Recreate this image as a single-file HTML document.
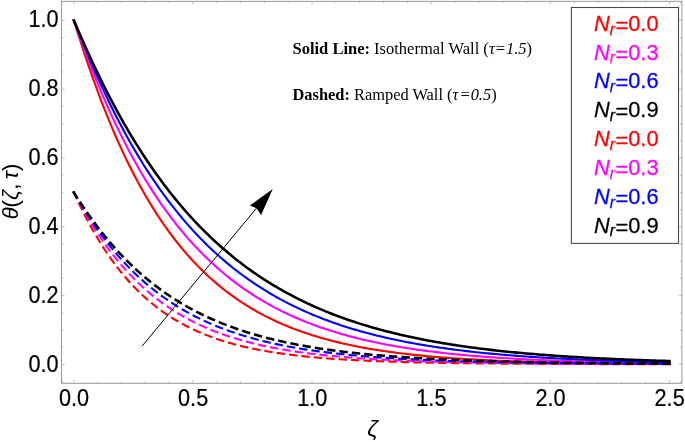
<!DOCTYPE html>
<html><head><meta charset="utf-8"><title>Temperature profiles</title>
<style>html,body{margin:0;padding:0;background:#fff}svg{display:block}text{font-family:"Liberation Sans",Arial,sans-serif}.s{font-family:"Liberation Serif","Times New Roman",serif}</style></head><body>
<svg width="685" height="442" viewBox="0 0 685 442">
<rect width="685" height="442" fill="#fff"/>
<path d="M73.80 20.35 L76.18 27.84 L78.56 35.36 L80.95 42.80 L83.33 50.11 L85.71 57.30 L88.09 64.35 L90.48 71.27 L92.86 78.05 L95.24 84.69 L97.62 91.20 L100.01 97.57 L102.39 103.80 L104.77 109.90 L107.16 115.87 L109.54 121.71 L111.92 127.43 L114.30 133.01 L116.69 138.48 L119.07 143.82 L121.45 149.05 L123.83 154.16 L126.22 159.15 L128.60 164.03 L130.98 168.81 L133.36 173.47 L135.75 178.03 L138.13 182.49 L140.51 186.84 L142.89 191.09 L145.27 195.25 L147.66 199.31 L150.04 203.28 L152.42 207.16 L154.81 210.95 L157.19 214.65 L159.57 218.27 L161.95 221.80 L164.33 225.25 L166.72 228.62 L169.10 231.91 L171.48 235.12 L173.87 238.26 L176.25 241.33 L178.63 244.32 L181.01 247.25 L183.39 250.10 L185.78 252.89 L188.16 255.61 L190.54 258.27 L192.93 260.87 L195.31 263.40 L197.69 265.88 L200.07 268.29 L202.45 270.65 L204.84 272.95 L207.22 275.20 L209.60 277.40 L211.99 279.54 L214.37 281.63 L216.75 283.67 L219.13 285.66 L221.51 287.61 L223.90 289.51 L226.28 291.36 L228.66 293.17 L231.05 294.93 L233.43 296.65 L235.81 298.34 L238.19 299.98 L240.57 301.58 L242.96 303.14 L245.34 304.66 L247.72 306.15 L250.11 307.60 L252.49 309.02 L254.87 310.40 L257.25 311.75 L259.63 313.07 L262.02 314.35 L264.40 315.61 L266.78 316.83 L269.17 318.02 L271.55 319.18 L273.93 320.32 L276.31 321.43 L278.69 322.51 L281.08 323.56 L283.46 324.59 L285.84 325.59 L288.23 326.57 L290.61 327.53 L292.99 328.46 L295.37 329.36 L297.75 330.25 L300.14 331.11 L302.52 331.96 L304.90 332.78 L307.28 333.58 L309.67 334.36 L312.05 335.13 L314.43 335.87 L316.81 336.59 L319.20 337.30 L321.58 337.99 L323.96 338.66 L326.35 339.32 L328.73 339.96 L331.11 340.58 L333.49 341.19 L335.88 341.79 L338.26 342.36 L340.64 342.93 L343.02 343.48 L345.41 344.01 L347.79 344.54 L350.17 345.05 L352.55 345.54 L354.94 346.03 L357.32 346.50 L359.70 346.96 L362.08 347.41 L364.47 347.85 L366.85 348.28 L369.23 348.69 L371.61 349.10 L374.00 349.49 L376.38 349.88 L378.76 350.25 L381.14 350.62 L383.53 350.98 L385.91 351.32 L388.29 351.66 L390.67 351.99 L393.06 352.32 L395.44 352.63 L397.82 352.94 L400.20 353.24 L402.59 353.53 L404.97 353.81 L407.35 354.09 L409.73 354.36 L412.12 354.62 L414.50 354.87 L416.88 355.12 L419.26 355.37 L421.64 355.60 L424.03 355.83 L426.41 356.06 L428.79 356.28 L431.18 356.49 L433.56 356.70 L435.94 356.90 L438.32 357.10 L440.71 357.29 L443.09 357.48 L445.47 357.66 L447.85 357.84 L450.24 358.01 L452.62 358.18 L455.00 358.35 L457.38 358.51 L459.77 358.66 L462.15 358.82 L464.53 358.96 L466.91 359.11 L469.30 359.25 L471.68 359.39 L474.06 359.52 L476.44 359.65 L478.82 359.78 L481.21 359.90 L483.59 360.02 L485.97 360.14 L488.36 360.25 L490.74 360.36 L493.12 360.47 L495.50 360.58 L497.88 360.68 L500.27 360.78 L502.65 360.88 L505.03 360.97 L507.42 361.06 L509.80 361.15 L512.18 361.24 L514.56 361.33 L516.95 361.41 L519.33 361.49 L521.71 361.57 L524.09 361.65 L526.48 361.72 L528.86 361.80 L531.24 361.87 L533.62 361.94 L536.00 362.00 L538.39 362.07 L540.77 362.13 L543.15 362.19 L545.53 362.25 L547.92 362.31 L550.30 362.37 L552.68 362.43 L555.06 362.48 L557.45 362.53 L559.83 362.59 L562.21 362.64 L564.60 362.68 L566.98 362.73 L569.36 362.78 L571.74 362.82 L574.12 362.87 L576.51 362.91 L578.89 362.95 L581.27 362.99 L583.65 363.03 L586.04 363.07 L588.42 363.11 L590.80 363.14 L593.18 363.18 L595.57 363.21 L597.95 363.25 L600.33 363.28 L602.72 363.31 L605.10 363.34 L607.48 363.37 L609.86 363.40 L612.25 363.43 L614.63 363.46 L617.01 363.48 L619.39 363.51 L621.77 363.54 L624.16 363.56 L626.54 363.59 L628.92 363.61 L631.30 363.63 L633.69 363.65 L636.07 363.68 L638.45 363.70 L640.83 363.72 L643.22 363.74 L645.60 363.76 L647.98 363.78 L650.36 363.80 L652.75 363.81 L655.13 363.83 L657.51 363.85 L659.89 363.86 L662.28 363.88 L664.66 363.90 L667.04 363.91 L669.42 363.93" fill="none" stroke="#ff0000" stroke-width="2.10" stroke-linecap="square"/>
<path d="M73.80 20.35 L76.18 26.91 L78.56 33.52 L80.95 40.07 L83.33 46.53 L85.71 52.90 L88.09 59.16 L90.48 65.33 L92.86 71.39 L95.24 77.34 L97.62 83.18 L100.01 88.92 L102.39 94.56 L104.77 100.09 L107.16 105.52 L109.54 110.84 L111.92 116.07 L114.30 121.19 L116.69 126.22 L119.07 131.15 L121.45 135.99 L123.83 140.73 L126.22 145.38 L128.60 149.94 L130.98 154.41 L133.36 158.79 L135.75 163.08 L138.13 167.29 L140.51 171.42 L142.89 175.47 L145.27 179.43 L147.66 183.32 L150.04 187.12 L152.42 190.85 L154.81 194.51 L157.19 198.09 L159.57 201.60 L161.95 205.04 L164.33 208.42 L166.72 211.72 L169.10 214.95 L171.48 218.12 L173.87 221.23 L176.25 224.27 L178.63 227.25 L181.01 230.17 L183.39 233.03 L185.78 235.83 L188.16 238.57 L190.54 241.26 L192.93 243.89 L195.31 246.46 L197.69 248.99 L200.07 251.46 L202.45 253.88 L204.84 256.25 L207.22 258.57 L209.60 260.85 L211.99 263.07 L214.37 265.25 L216.75 267.39 L219.13 269.48 L221.51 271.53 L223.90 273.53 L226.28 275.49 L228.66 277.42 L231.05 279.30 L233.43 281.14 L235.81 282.94 L238.19 284.71 L240.57 286.44 L242.96 288.13 L245.34 289.78 L247.72 291.41 L250.11 292.99 L252.49 294.55 L254.87 296.07 L257.25 297.56 L259.63 299.01 L262.02 300.44 L264.40 301.84 L266.78 303.20 L269.17 304.54 L271.55 305.85 L273.93 307.13 L276.31 308.39 L278.69 309.62 L281.08 310.82 L283.46 311.99 L285.84 313.14 L288.23 314.27 L290.61 315.37 L292.99 316.45 L295.37 317.51 L297.75 318.54 L300.14 319.55 L302.52 320.54 L304.90 321.51 L307.28 322.46 L309.67 323.38 L312.05 324.29 L314.43 325.18 L316.81 326.05 L319.20 326.90 L321.58 327.73 L323.96 328.54 L326.35 329.34 L328.73 330.11 L331.11 330.88 L333.49 331.62 L335.88 332.35 L338.26 333.06 L340.64 333.76 L343.02 334.45 L345.41 335.11 L347.79 335.77 L350.17 336.41 L352.55 337.03 L354.94 337.64 L357.32 338.24 L359.70 338.83 L362.08 339.40 L364.47 339.96 L366.85 340.51 L369.23 341.04 L371.61 341.57 L374.00 342.08 L376.38 342.58 L378.76 343.07 L381.14 343.55 L383.53 344.02 L385.91 344.48 L388.29 344.93 L390.67 345.37 L393.06 345.80 L395.44 346.22 L397.82 346.63 L400.20 347.03 L402.59 347.43 L404.97 347.81 L407.35 348.19 L409.73 348.55 L412.12 348.91 L414.50 349.26 L416.88 349.61 L419.26 349.94 L421.64 350.27 L424.03 350.59 L426.41 350.91 L428.79 351.22 L431.18 351.52 L433.56 351.81 L435.94 352.10 L438.32 352.38 L440.71 352.65 L443.09 352.92 L445.47 353.18 L447.85 353.44 L450.24 353.69 L452.62 353.94 L455.00 354.18 L457.38 354.41 L459.77 354.64 L462.15 354.86 L464.53 355.08 L466.91 355.30 L469.30 355.51 L471.68 355.71 L474.06 355.91 L476.44 356.11 L478.82 356.30 L481.21 356.49 L483.59 356.67 L485.97 356.85 L488.36 357.02 L490.74 357.19 L493.12 357.36 L495.50 357.52 L497.88 357.68 L500.27 357.84 L502.65 357.99 L505.03 358.14 L507.42 358.29 L509.80 358.43 L512.18 358.57 L514.56 358.70 L516.95 358.84 L519.33 358.97 L521.71 359.09 L524.09 359.22 L526.48 359.34 L528.86 359.46 L531.24 359.57 L533.62 359.68 L536.00 359.80 L538.39 359.90 L540.77 360.01 L543.15 360.11 L545.53 360.21 L547.92 360.31 L550.30 360.41 L552.68 360.50 L555.06 360.59 L557.45 360.68 L559.83 360.77 L562.21 360.86 L564.60 360.94 L566.98 361.02 L569.36 361.10 L571.74 361.18 L574.12 361.26 L576.51 361.33 L578.89 361.41 L581.27 361.48 L583.65 361.55 L586.04 361.61 L588.42 361.68 L590.80 361.75 L593.18 361.81 L595.57 361.87 L597.95 361.93 L600.33 361.99 L602.72 362.05 L605.10 362.11 L607.48 362.16 L609.86 362.21 L612.25 362.27 L614.63 362.32 L617.01 362.37 L619.39 362.42 L621.77 362.47 L624.16 362.51 L626.54 362.56 L628.92 362.60 L631.30 362.65 L633.69 362.69 L636.07 362.73 L638.45 362.77 L640.83 362.81 L643.22 362.85 L645.60 362.89 L647.98 362.93 L650.36 362.96 L652.75 363.00 L655.13 363.03 L657.51 363.07 L659.89 363.10 L662.28 363.13 L664.66 363.16 L667.04 363.19 L669.42 363.22" fill="none" stroke="#ff00ff" stroke-width="2.10" stroke-linecap="square"/>
<path d="M73.80 20.35 L76.18 26.26 L78.56 32.22 L80.95 38.14 L83.33 43.99 L85.71 49.77 L88.09 55.47 L90.48 61.08 L92.86 66.62 L95.24 72.06 L97.62 77.42 L100.01 82.69 L102.39 87.88 L104.77 92.98 L107.16 98.00 L109.54 102.93 L111.92 107.78 L114.30 112.54 L116.69 117.23 L119.07 121.83 L121.45 126.36 L123.83 130.80 L126.22 135.17 L128.60 139.47 L130.98 143.68 L133.36 147.83 L135.75 151.90 L138.13 155.89 L140.51 159.82 L142.89 163.68 L145.27 167.47 L147.66 171.19 L150.04 174.84 L152.42 178.43 L154.81 181.95 L157.19 185.41 L159.57 188.81 L161.95 192.15 L164.33 195.42 L166.72 198.64 L169.10 201.80 L171.48 204.90 L173.87 207.94 L176.25 210.93 L178.63 213.86 L181.01 216.74 L183.39 219.57 L185.78 222.34 L188.16 225.07 L190.54 227.74 L192.93 230.37 L195.31 232.94 L197.69 235.47 L200.07 237.95 L202.45 240.39 L204.84 242.78 L207.22 245.13 L209.60 247.43 L211.99 249.69 L214.37 251.90 L216.75 254.08 L219.13 256.22 L221.51 258.31 L223.90 260.37 L226.28 262.39 L228.66 264.37 L231.05 266.31 L233.43 268.22 L235.81 270.09 L238.19 271.92 L240.57 273.72 L242.96 275.49 L245.34 277.22 L247.72 278.93 L250.11 280.59 L252.49 282.23 L254.87 283.84 L257.25 285.41 L259.63 286.96 L262.02 288.48 L264.40 289.97 L266.78 291.42 L269.17 292.86 L271.55 294.26 L273.93 295.64 L276.31 296.99 L278.69 298.32 L281.08 299.62 L283.46 300.89 L285.84 302.15 L288.23 303.37 L290.61 304.58 L292.99 305.76 L295.37 306.92 L297.75 308.05 L300.14 309.17 L302.52 310.26 L304.90 311.33 L307.28 312.38 L309.67 313.41 L312.05 314.42 L314.43 315.42 L316.81 316.39 L319.20 317.34 L321.58 318.28 L323.96 319.20 L326.35 320.09 L328.73 320.98 L331.11 321.84 L333.49 322.69 L335.88 323.52 L338.26 324.34 L340.64 325.14 L343.02 325.92 L345.41 326.69 L347.79 327.45 L350.17 328.19 L352.55 328.91 L354.94 329.62 L357.32 330.32 L359.70 331.00 L362.08 331.67 L364.47 332.33 L366.85 332.97 L369.23 333.60 L371.61 334.22 L374.00 334.83 L376.38 335.43 L378.76 336.01 L381.14 336.58 L383.53 337.14 L385.91 337.69 L388.29 338.23 L390.67 338.76 L393.06 339.28 L395.44 339.79 L397.82 340.28 L400.20 340.77 L402.59 341.25 L404.97 341.72 L407.35 342.18 L409.73 342.63 L412.12 343.07 L414.50 343.51 L416.88 343.93 L419.26 344.35 L421.64 344.75 L424.03 345.15 L426.41 345.55 L428.79 345.93 L431.18 346.31 L433.56 346.68 L435.94 347.04 L438.32 347.39 L440.71 347.74 L443.09 348.08 L445.47 348.41 L447.85 348.74 L450.24 349.06 L452.62 349.37 L455.00 349.68 L457.38 349.98 L459.77 350.28 L462.15 350.57 L464.53 350.85 L466.91 351.13 L469.30 351.41 L471.68 351.67 L474.06 351.93 L476.44 352.19 L478.82 352.44 L481.21 352.69 L483.59 352.93 L485.97 353.17 L488.36 353.40 L490.74 353.63 L493.12 353.85 L495.50 354.07 L497.88 354.28 L500.27 354.49 L502.65 354.70 L505.03 354.90 L507.42 355.09 L509.80 355.29 L512.18 355.48 L514.56 355.66 L516.95 355.84 L519.33 356.02 L521.71 356.20 L524.09 356.37 L526.48 356.53 L528.86 356.70 L531.24 356.86 L533.62 357.02 L536.00 357.17 L538.39 357.32 L540.77 357.47 L543.15 357.61 L545.53 357.76 L547.92 357.90 L550.30 358.03 L552.68 358.17 L555.06 358.30 L557.45 358.43 L559.83 358.55 L562.21 358.67 L564.60 358.79 L566.98 358.91 L569.36 359.03 L571.74 359.14 L574.12 359.25 L576.51 359.36 L578.89 359.47 L581.27 359.57 L583.65 359.67 L586.04 359.77 L588.42 359.87 L590.80 359.97 L593.18 360.06 L595.57 360.15 L597.95 360.24 L600.33 360.33 L602.72 360.42 L605.10 360.50 L607.48 360.59 L609.86 360.67 L612.25 360.75 L614.63 360.82 L617.01 360.90 L619.39 360.98 L621.77 361.05 L624.16 361.12 L626.54 361.19 L628.92 361.26 L631.30 361.33 L633.69 361.39 L636.07 361.46 L638.45 361.52 L640.83 361.58 L643.22 361.64 L645.60 361.70 L647.98 361.76 L650.36 361.82 L652.75 361.87 L655.13 361.93 L657.51 361.98 L659.89 362.03 L662.28 362.09 L664.66 362.14 L667.04 362.18 L669.42 362.23" fill="none" stroke="#0000ff" stroke-width="2.10" stroke-linecap="square"/>
<path d="M73.80 20.35 L76.18 25.77 L78.56 31.24 L80.95 36.68 L83.33 42.07 L85.71 47.40 L88.09 52.66 L90.48 57.86 L92.86 62.98 L95.24 68.03 L97.62 73.01 L100.01 77.92 L102.39 82.75 L104.77 87.52 L107.16 92.21 L109.54 96.82 L111.92 101.37 L114.30 105.85 L116.69 110.26 L119.07 114.59 L121.45 118.86 L123.83 123.07 L126.22 127.20 L128.60 131.27 L130.98 135.28 L133.36 139.22 L135.75 143.09 L138.13 146.91 L140.51 150.66 L142.89 154.35 L145.27 157.98 L147.66 161.56 L150.04 165.07 L152.42 168.53 L154.81 171.93 L157.19 175.27 L159.57 178.56 L161.95 181.79 L164.33 184.97 L166.72 188.10 L169.10 191.17 L171.48 194.20 L173.87 197.17 L176.25 200.10 L178.63 202.97 L181.01 205.80 L183.39 208.58 L185.78 211.31 L188.16 214.00 L190.54 216.64 L192.93 219.24 L195.31 221.80 L197.69 224.31 L200.07 226.78 L202.45 229.20 L204.84 231.59 L207.22 233.93 L209.60 236.24 L211.99 238.50 L214.37 240.73 L216.75 242.92 L219.13 245.07 L221.51 247.19 L223.90 249.27 L226.28 251.31 L228.66 253.32 L231.05 255.29 L233.43 257.23 L235.81 259.14 L238.19 261.02 L240.57 262.86 L242.96 264.67 L245.34 266.45 L247.72 268.20 L250.11 269.91 L252.49 271.60 L254.87 273.26 L257.25 274.89 L259.63 276.50 L262.02 278.07 L264.40 279.62 L266.78 281.14 L269.17 282.63 L271.55 284.10 L273.93 285.54 L276.31 286.96 L278.69 288.36 L281.08 289.72 L283.46 291.07 L285.84 292.39 L288.23 293.69 L290.61 294.96 L292.99 296.22 L295.37 297.45 L297.75 298.66 L300.14 299.85 L302.52 301.01 L304.90 302.16 L307.28 303.29 L309.67 304.40 L312.05 305.48 L314.43 306.55 L316.81 307.60 L319.20 308.63 L321.58 309.65 L323.96 310.64 L326.35 311.62 L328.73 312.58 L331.11 313.52 L333.49 314.45 L335.88 315.36 L338.26 316.25 L340.64 317.13 L343.02 318.00 L345.41 318.84 L347.79 319.68 L350.17 320.49 L352.55 321.30 L354.94 322.08 L357.32 322.86 L359.70 323.62 L362.08 324.37 L364.47 325.10 L366.85 325.82 L369.23 326.53 L371.61 327.23 L374.00 327.91 L376.38 328.58 L378.76 329.24 L381.14 329.89 L383.53 330.52 L385.91 331.15 L388.29 331.76 L390.67 332.36 L393.06 332.95 L395.44 333.53 L397.82 334.10 L400.20 334.66 L402.59 335.21 L404.97 335.75 L407.35 336.28 L409.73 336.80 L412.12 337.31 L414.50 337.82 L416.88 338.31 L419.26 338.79 L421.64 339.27 L424.03 339.73 L426.41 340.19 L428.79 340.64 L431.18 341.08 L433.56 341.52 L435.94 341.94 L438.32 342.36 L440.71 342.77 L443.09 343.18 L445.47 343.57 L447.85 343.96 L450.24 344.34 L452.62 344.72 L455.00 345.09 L457.38 345.45 L459.77 345.80 L462.15 346.15 L464.53 346.49 L466.91 346.83 L469.30 347.16 L471.68 347.48 L474.06 347.80 L476.44 348.11 L478.82 348.41 L481.21 348.71 L483.59 349.01 L485.97 349.30 L488.36 349.58 L490.74 349.86 L493.12 350.14 L495.50 350.40 L497.88 350.67 L500.27 350.93 L502.65 351.18 L505.03 351.43 L507.42 351.68 L509.80 351.92 L512.18 352.15 L514.56 352.38 L516.95 352.61 L519.33 352.84 L521.71 353.05 L524.09 353.27 L526.48 353.48 L528.86 353.69 L531.24 353.89 L533.62 354.09 L536.00 354.29 L538.39 354.48 L540.77 354.67 L543.15 354.85 L545.53 355.04 L547.92 355.21 L550.30 355.39 L552.68 355.56 L555.06 355.73 L557.45 355.90 L559.83 356.06 L562.21 356.22 L564.60 356.37 L566.98 356.53 L569.36 356.68 L571.74 356.83 L574.12 356.97 L576.51 357.11 L578.89 357.25 L581.27 357.39 L583.65 357.53 L586.04 357.66 L588.42 357.79 L590.80 357.91 L593.18 358.04 L595.57 358.16 L597.95 358.28 L600.33 358.40 L602.72 358.52 L605.10 358.63 L607.48 358.74 L609.86 358.85 L612.25 358.96 L614.63 359.06 L617.01 359.17 L619.39 359.27 L621.77 359.37 L624.16 359.46 L626.54 359.56 L628.92 359.65 L631.30 359.75 L633.69 359.84 L636.07 359.93 L638.45 360.01 L640.83 360.10 L643.22 360.18 L645.60 360.26 L647.98 360.35 L650.36 360.42 L652.75 360.50 L655.13 360.58 L657.51 360.65 L659.89 360.73 L662.28 360.80 L664.66 360.87 L667.04 360.94 L669.42 361.01" fill="none" stroke="#000000" stroke-width="2.55" stroke-linecap="square"/>
<path d="M73.80 192.40 L76.18 197.52 L78.56 202.56 L80.95 207.48 L83.33 212.28 L85.71 216.94 L88.09 221.47 L90.48 225.88 L92.86 230.15 L95.24 234.31 L97.62 238.34 L100.01 242.25 L102.39 246.04 L104.77 249.73 L107.16 253.30 L109.54 256.76 L111.92 260.13 L114.30 263.38 L116.69 266.54 L119.07 269.61 L121.45 272.58 L123.83 275.46 L126.22 278.25 L128.60 280.95 L130.98 283.57 L133.36 286.12 L135.75 288.58 L138.13 290.96 L140.51 293.27 L142.89 295.51 L145.27 297.68 L147.66 299.79 L150.04 301.82 L152.42 303.80 L154.81 305.71 L157.19 307.56 L159.57 309.35 L161.95 311.09 L164.33 312.77 L166.72 314.40 L169.10 315.98 L171.48 317.51 L173.87 318.99 L176.25 320.42 L178.63 321.81 L181.01 323.15 L183.39 324.45 L185.78 325.71 L188.16 326.93 L190.54 328.11 L192.93 329.26 L195.31 330.37 L197.69 331.44 L200.07 332.48 L202.45 333.48 L204.84 334.45 L207.22 335.39 L209.60 336.31 L211.99 337.19 L214.37 338.04 L216.75 338.87 L219.13 339.67 L221.51 340.45 L223.90 341.20 L226.28 341.92 L228.66 342.63 L231.05 343.31 L233.43 343.97 L235.81 344.61 L238.19 345.22 L240.57 345.82 L242.96 346.40 L245.34 346.96 L247.72 347.50 L250.11 348.03 L252.49 348.54 L254.87 349.03 L257.25 349.50 L259.63 349.97 L262.02 350.41 L264.40 350.84 L266.78 351.26 L269.17 351.67 L271.55 352.06 L273.93 352.44 L276.31 352.81 L278.69 353.16 L281.08 353.51 L283.46 353.84 L285.84 354.16 L288.23 354.47 L290.61 354.78 L292.99 355.07 L295.37 355.35 L297.75 355.63 L300.14 355.89 L302.52 356.15 L304.90 356.40 L307.28 356.64 L309.67 356.88 L312.05 357.10 L314.43 357.32 L316.81 357.53 L319.20 357.74 L321.58 357.94 L323.96 358.13 L326.35 358.32 L328.73 358.50 L331.11 358.67 L333.49 358.84 L335.88 359.01 L338.26 359.17 L340.64 359.32 L343.02 359.47 L345.41 359.62 L347.79 359.76 L350.17 359.89 L352.55 360.02 L354.94 360.15 L357.32 360.28 L359.70 360.39 L362.08 360.51 L364.47 360.62 L366.85 360.73 L369.23 360.84 L371.61 360.94 L374.00 361.04 L376.38 361.14 L378.76 361.23 L381.14 361.32 L383.53 361.41 L385.91 361.49 L388.29 361.57 L390.67 361.65 L393.06 361.73 L395.44 361.81 L397.82 361.88 L400.20 361.95 L402.59 362.02 L404.97 362.08 L407.35 362.15 L409.73 362.21 L412.12 362.27 L414.50 362.33 L416.88 362.39 L419.26 362.44 L421.64 362.49 L424.03 362.55 L426.41 362.60 L428.79 362.64 L431.18 362.69 L433.56 362.74 L435.94 362.78 L438.32 362.83 L440.71 362.87 L443.09 362.91 L445.47 362.95 L447.85 362.99 L450.24 363.02 L452.62 363.06 L455.00 363.10 L457.38 363.13 L459.77 363.16 L462.15 363.19 L464.53 363.23 L466.91 363.26 L469.30 363.29 L471.68 363.31 L474.06 363.34 L476.44 363.37 L478.82 363.39 L481.21 363.42 L483.59 363.44 L485.97 363.47 L488.36 363.49 L490.74 363.51 L493.12 363.54 L495.50 363.56 L497.88 363.58 L500.27 363.60 L502.65 363.62 L505.03 363.64 L507.42 363.66 L509.80 363.67 L512.18 363.69 L514.56 363.71 L516.95 363.73 L519.33 363.74 L521.71 363.76 L524.09 363.77 L526.48 363.79 L528.86 363.80 L531.24 363.82 L533.62 363.83 L536.00 363.84 L538.39 363.86 L540.77 363.87 L543.15 363.88 L545.53 363.89 L547.92 363.90 L550.30 363.91 L552.68 363.93 L555.06 363.94 L557.45 363.95 L559.83 363.96 L562.21 363.97 L564.60 363.98 L566.98 363.99 L569.36 363.99 L571.74 364.00 L574.12 364.01 L576.51 364.02 L578.89 364.03 L581.27 364.04 L583.65 364.04 L586.04 364.05 L588.42 364.06 L590.80 364.07 L593.18 364.07 L595.57 364.08 L597.95 364.09 L600.33 364.09 L602.72 364.10 L605.10 364.10 L607.48 364.11 L609.86 364.12 L612.25 364.12 L614.63 364.13 L617.01 364.13 L619.39 364.14 L621.77 364.14 L624.16 364.15 L626.54 364.15 L628.92 364.16 L631.30 364.16 L633.69 364.17 L636.07 364.17 L638.45 364.17 L640.83 364.18 L643.22 364.18 L645.60 364.19 L647.98 364.19 L650.36 364.19 L652.75 364.20 L655.13 364.20 L657.51 364.20 L659.89 364.21 L662.28 364.21 L664.66 364.21 L667.04 364.22 L669.42 364.22" fill="none" stroke="#ff0000" stroke-width="2.10" stroke-linecap="square" stroke-dasharray="6.30 6.15"/>
<path d="M73.80 192.40 L76.18 196.89 L78.56 201.33 L80.95 205.68 L83.33 209.94 L85.71 214.09 L88.09 218.14 L90.48 222.09 L92.86 225.95 L95.24 229.70 L97.62 233.36 L100.01 236.93 L102.39 240.40 L104.77 243.79 L107.16 247.08 L109.54 250.29 L111.92 253.42 L114.30 256.46 L116.69 259.42 L119.07 262.30 L121.45 265.11 L123.83 267.84 L126.22 270.49 L128.60 273.08 L130.98 275.60 L133.36 278.05 L135.75 280.43 L138.13 282.75 L140.51 285.00 L142.89 287.19 L145.27 289.33 L147.66 291.41 L150.04 293.42 L152.42 295.39 L154.81 297.30 L157.19 299.16 L159.57 300.96 L161.95 302.72 L164.33 304.43 L166.72 306.09 L169.10 307.71 L171.48 309.28 L173.87 310.81 L176.25 312.30 L178.63 313.74 L181.01 315.15 L183.39 316.51 L185.78 317.84 L188.16 319.13 L190.54 320.39 L192.93 321.61 L195.31 322.79 L197.69 323.95 L200.07 325.07 L202.45 326.16 L204.84 327.22 L207.22 328.25 L209.60 329.25 L211.99 330.22 L214.37 331.17 L216.75 332.09 L219.13 332.98 L221.51 333.85 L223.90 334.70 L226.28 335.52 L228.66 336.31 L231.05 337.09 L233.43 337.84 L235.81 338.58 L238.19 339.29 L240.57 339.98 L242.96 340.65 L245.34 341.31 L247.72 341.94 L250.11 342.56 L252.49 343.16 L254.87 343.74 L257.25 344.31 L259.63 344.86 L262.02 345.40 L264.40 345.92 L266.78 346.42 L269.17 346.92 L271.55 347.39 L273.93 347.86 L276.31 348.31 L278.69 348.75 L281.08 349.17 L283.46 349.59 L285.84 349.99 L288.23 350.38 L290.61 350.76 L292.99 351.13 L295.37 351.49 L297.75 351.84 L300.14 352.18 L302.52 352.51 L304.90 352.83 L307.28 353.14 L309.67 353.45 L312.05 353.74 L314.43 354.03 L316.81 354.31 L319.20 354.58 L321.58 354.84 L323.96 355.10 L326.35 355.34 L328.73 355.59 L331.11 355.82 L333.49 356.05 L335.88 356.27 L338.26 356.49 L340.64 356.70 L343.02 356.90 L345.41 357.10 L347.79 357.29 L350.17 357.48 L352.55 357.66 L354.94 357.84 L357.32 358.01 L359.70 358.18 L362.08 358.34 L364.47 358.50 L366.85 358.65 L369.23 358.80 L371.61 358.95 L374.00 359.09 L376.38 359.23 L378.76 359.36 L381.14 359.49 L383.53 359.62 L385.91 359.74 L388.29 359.86 L390.67 359.98 L393.06 360.09 L395.44 360.20 L397.82 360.31 L400.20 360.41 L402.59 360.51 L404.97 360.61 L407.35 360.71 L409.73 360.80 L412.12 360.89 L414.50 360.98 L416.88 361.07 L419.26 361.15 L421.64 361.23 L424.03 361.31 L426.41 361.39 L428.79 361.46 L431.18 361.54 L433.56 361.61 L435.94 361.68 L438.32 361.74 L440.71 361.81 L443.09 361.87 L445.47 361.94 L447.85 362.00 L450.24 362.05 L452.62 362.11 L455.00 362.17 L457.38 362.22 L459.77 362.27 L462.15 362.33 L464.53 362.38 L466.91 362.42 L469.30 362.47 L471.68 362.52 L474.06 362.56 L476.44 362.61 L478.82 362.65 L481.21 362.69 L483.59 362.73 L485.97 362.77 L488.36 362.81 L490.74 362.85 L493.12 362.88 L495.50 362.92 L497.88 362.95 L500.27 362.99 L502.65 363.02 L505.03 363.05 L507.42 363.08 L509.80 363.11 L512.18 363.14 L514.56 363.17 L516.95 363.20 L519.33 363.23 L521.71 363.25 L524.09 363.28 L526.48 363.30 L528.86 363.33 L531.24 363.35 L533.62 363.38 L536.00 363.40 L538.39 363.42 L540.77 363.44 L543.15 363.46 L545.53 363.48 L547.92 363.50 L550.30 363.52 L552.68 363.54 L555.06 363.56 L557.45 363.58 L559.83 363.60 L562.21 363.61 L564.60 363.63 L566.98 363.65 L569.36 363.66 L571.74 363.68 L574.12 363.69 L576.51 363.71 L578.89 363.72 L581.27 363.74 L583.65 363.75 L586.04 363.77 L588.42 363.78 L590.80 363.79 L593.18 363.80 L595.57 363.82 L597.95 363.83 L600.33 363.84 L602.72 363.85 L605.10 363.86 L607.48 363.87 L609.86 363.88 L612.25 363.89 L614.63 363.90 L617.01 363.91 L619.39 363.92 L621.77 363.93 L624.16 363.94 L626.54 363.95 L628.92 363.96 L631.30 363.97 L633.69 363.98 L636.07 363.99 L638.45 363.99 L640.83 364.00 L643.22 364.01 L645.60 364.02 L647.98 364.02 L650.36 364.03 L652.75 364.04 L655.13 364.04 L657.51 364.05 L659.89 364.06 L662.28 364.06 L664.66 364.07 L667.04 364.07 L669.42 364.08" fill="none" stroke="#ff00ff" stroke-width="2.10" stroke-linecap="square" stroke-dasharray="6.30 6.15"/>
<path d="M73.80 192.40 L76.18 196.45 L78.56 200.46 L80.95 204.41 L83.33 208.27 L85.71 212.05 L88.09 215.76 L90.48 219.38 L92.86 222.92 L95.24 226.38 L97.62 229.76 L100.01 233.06 L102.39 236.28 L104.77 239.43 L107.16 242.51 L109.54 245.51 L111.92 248.45 L114.30 251.31 L116.69 254.11 L119.07 256.84 L121.45 259.50 L123.83 262.10 L126.22 264.64 L128.60 267.11 L130.98 269.53 L133.36 271.89 L135.75 274.19 L138.13 276.43 L140.51 278.62 L142.89 280.76 L145.27 282.84 L147.66 284.87 L150.04 286.86 L152.42 288.79 L154.81 290.68 L157.19 292.52 L159.57 294.32 L161.95 296.07 L164.33 297.77 L166.72 299.44 L169.10 301.06 L171.48 302.65 L173.87 304.19 L176.25 305.70 L178.63 307.17 L181.01 308.60 L183.39 310.00 L185.78 311.36 L188.16 312.69 L190.54 313.98 L192.93 315.24 L195.31 316.47 L197.69 317.67 L200.07 318.84 L202.45 319.98 L204.84 321.09 L207.22 322.18 L209.60 323.23 L211.99 324.26 L214.37 325.27 L216.75 326.25 L219.13 327.20 L221.51 328.13 L223.90 329.04 L226.28 329.92 L228.66 330.78 L231.05 331.62 L233.43 332.44 L235.81 333.24 L238.19 334.02 L240.57 334.78 L242.96 335.52 L245.34 336.24 L247.72 336.94 L250.11 337.62 L252.49 338.29 L254.87 338.94 L257.25 339.57 L259.63 340.19 L262.02 340.79 L264.40 341.38 L266.78 341.95 L269.17 342.51 L271.55 343.05 L273.93 343.58 L276.31 344.10 L278.69 344.60 L281.08 345.09 L283.46 345.57 L285.84 346.03 L288.23 346.49 L290.61 346.93 L292.99 347.36 L295.37 347.78 L297.75 348.19 L300.14 348.59 L302.52 348.98 L304.90 349.36 L307.28 349.73 L309.67 350.09 L312.05 350.44 L314.43 350.78 L316.81 351.11 L319.20 351.44 L321.58 351.75 L323.96 352.06 L326.35 352.36 L328.73 352.66 L331.11 352.94 L333.49 353.22 L335.88 353.49 L338.26 353.76 L340.64 354.02 L343.02 354.27 L345.41 354.51 L347.79 354.75 L350.17 354.99 L352.55 355.21 L354.94 355.43 L357.32 355.65 L359.70 355.86 L362.08 356.06 L364.47 356.26 L366.85 356.46 L369.23 356.65 L371.61 356.84 L374.00 357.02 L376.38 357.19 L378.76 357.36 L381.14 357.53 L383.53 357.69 L385.91 357.85 L388.29 358.01 L390.67 358.16 L393.06 358.31 L395.44 358.45 L397.82 358.59 L400.20 358.73 L402.59 358.86 L404.97 358.99 L407.35 359.12 L409.73 359.24 L412.12 359.36 L414.50 359.48 L416.88 359.59 L419.26 359.71 L421.64 359.81 L424.03 359.92 L426.41 360.02 L428.79 360.13 L431.18 360.22 L433.56 360.32 L435.94 360.41 L438.32 360.51 L440.71 360.60 L443.09 360.68 L445.47 360.77 L447.85 360.85 L450.24 360.93 L452.62 361.01 L455.00 361.09 L457.38 361.16 L459.77 361.24 L462.15 361.31 L464.53 361.38 L466.91 361.44 L469.30 361.51 L471.68 361.58 L474.06 361.64 L476.44 361.70 L478.82 361.76 L481.21 361.82 L483.59 361.88 L485.97 361.93 L488.36 361.99 L490.74 362.04 L493.12 362.09 L495.50 362.14 L497.88 362.19 L500.27 362.24 L502.65 362.29 L505.03 362.33 L507.42 362.38 L509.80 362.42 L512.18 362.47 L514.56 362.51 L516.95 362.55 L519.33 362.59 L521.71 362.63 L524.09 362.66 L526.48 362.70 L528.86 362.74 L531.24 362.77 L533.62 362.81 L536.00 362.84 L538.39 362.87 L540.77 362.91 L543.15 362.94 L545.53 362.97 L547.92 363.00 L550.30 363.03 L552.68 363.06 L555.06 363.08 L557.45 363.11 L559.83 363.14 L562.21 363.16 L564.60 363.19 L566.98 363.21 L569.36 363.24 L571.74 363.26 L574.12 363.29 L576.51 363.31 L578.89 363.33 L581.27 363.35 L583.65 363.37 L586.04 363.39 L588.42 363.41 L590.80 363.43 L593.18 363.45 L595.57 363.47 L597.95 363.49 L600.33 363.51 L602.72 363.53 L605.10 363.54 L607.48 363.56 L609.86 363.58 L612.25 363.59 L614.63 363.61 L617.01 363.62 L619.39 363.64 L621.77 363.65 L624.16 363.67 L626.54 363.68 L628.92 363.70 L631.30 363.71 L633.69 363.72 L636.07 363.73 L638.45 363.75 L640.83 363.76 L643.22 363.77 L645.60 363.78 L647.98 363.79 L650.36 363.81 L652.75 363.82 L655.13 363.83 L657.51 363.84 L659.89 363.85 L662.28 363.86 L664.66 363.87 L667.04 363.88 L669.42 363.89" fill="none" stroke="#0000ff" stroke-width="2.10" stroke-linecap="square" stroke-dasharray="6.30 6.15"/>
<path d="M73.80 192.40 L76.18 196.11 L78.56 199.81 L80.95 203.44 L83.33 207.01 L85.71 210.51 L88.09 213.94 L90.48 217.30 L92.86 220.59 L95.24 223.82 L97.62 226.98 L100.01 230.07 L102.39 233.10 L104.77 236.06 L107.16 238.96 L109.54 241.79 L111.92 244.57 L114.30 247.28 L116.69 249.94 L119.07 252.54 L121.45 255.08 L123.83 257.56 L126.22 259.99 L128.60 262.37 L130.98 264.70 L133.36 266.97 L135.75 269.19 L138.13 271.36 L140.51 273.49 L142.89 275.57 L145.27 277.60 L147.66 279.58 L150.04 281.52 L152.42 283.42 L154.81 285.28 L157.19 287.09 L159.57 288.86 L161.95 290.59 L164.33 292.29 L166.72 293.94 L169.10 295.56 L171.48 297.14 L173.87 298.68 L176.25 300.19 L178.63 301.67 L181.01 303.11 L183.39 304.52 L185.78 305.89 L188.16 307.24 L190.54 308.55 L192.93 309.83 L195.31 311.09 L197.69 312.31 L200.07 313.51 L202.45 314.68 L204.84 315.83 L207.22 316.94 L209.60 318.03 L211.99 319.10 L214.37 320.14 L216.75 321.16 L219.13 322.15 L221.51 323.12 L223.90 324.07 L226.28 325.00 L228.66 325.91 L231.05 326.79 L233.43 327.65 L235.81 328.50 L238.19 329.32 L240.57 330.13 L242.96 330.91 L245.34 331.68 L247.72 332.43 L250.11 333.17 L252.49 333.88 L254.87 334.58 L257.25 335.27 L259.63 335.93 L262.02 336.59 L264.40 337.22 L266.78 337.84 L269.17 338.45 L271.55 339.05 L273.93 339.62 L276.31 340.19 L278.69 340.74 L281.08 341.28 L283.46 341.81 L285.84 342.33 L288.23 342.83 L290.61 343.32 L292.99 343.80 L295.37 344.27 L297.75 344.73 L300.14 345.17 L302.52 345.61 L304.90 346.04 L307.28 346.45 L309.67 346.86 L312.05 347.26 L314.43 347.65 L316.81 348.03 L319.20 348.40 L321.58 348.76 L323.96 349.11 L326.35 349.46 L328.73 349.79 L331.11 350.12 L333.49 350.45 L335.88 350.76 L338.26 351.07 L340.64 351.37 L343.02 351.66 L345.41 351.94 L347.79 352.22 L350.17 352.50 L352.55 352.76 L354.94 353.02 L357.32 353.28 L359.70 353.53 L362.08 353.77 L364.47 354.00 L366.85 354.24 L369.23 354.46 L371.61 354.68 L374.00 354.90 L376.38 355.11 L378.76 355.31 L381.14 355.52 L383.53 355.71 L385.91 355.90 L388.29 356.09 L390.67 356.27 L393.06 356.45 L395.44 356.63 L397.82 356.80 L400.20 356.97 L402.59 357.13 L404.97 357.29 L407.35 357.44 L409.73 357.60 L412.12 357.74 L414.50 357.89 L416.88 358.03 L419.26 358.17 L421.64 358.30 L424.03 358.44 L426.41 358.57 L428.79 358.69 L431.18 358.81 L433.56 358.94 L435.94 359.05 L438.32 359.17 L440.71 359.28 L443.09 359.39 L445.47 359.50 L447.85 359.60 L450.24 359.70 L452.62 359.80 L455.00 359.90 L457.38 360.00 L459.77 360.09 L462.15 360.18 L464.53 360.27 L466.91 360.36 L469.30 360.45 L471.68 360.53 L474.06 360.61 L476.44 360.69 L478.82 360.77 L481.21 360.84 L483.59 360.92 L485.97 360.99 L488.36 361.06 L490.74 361.13 L493.12 361.20 L495.50 361.27 L497.88 361.33 L500.27 361.39 L502.65 361.46 L505.03 361.52 L507.42 361.58 L509.80 361.63 L512.18 361.69 L514.56 361.75 L516.95 361.80 L519.33 361.85 L521.71 361.91 L524.09 361.96 L526.48 362.01 L528.86 362.05 L531.24 362.10 L533.62 362.15 L536.00 362.19 L538.39 362.24 L540.77 362.28 L543.15 362.32 L545.53 362.37 L547.92 362.41 L550.30 362.45 L552.68 362.48 L555.06 362.52 L557.45 362.56 L559.83 362.60 L562.21 362.63 L564.60 362.67 L566.98 362.70 L569.36 362.73 L571.74 362.77 L574.12 362.80 L576.51 362.83 L578.89 362.86 L581.27 362.89 L583.65 362.92 L586.04 362.95 L588.42 362.98 L590.80 363.00 L593.18 363.03 L595.57 363.06 L597.95 363.08 L600.33 363.11 L602.72 363.13 L605.10 363.16 L607.48 363.18 L609.86 363.20 L612.25 363.22 L614.63 363.25 L617.01 363.27 L619.39 363.29 L621.77 363.31 L624.16 363.33 L626.54 363.35 L628.92 363.37 L631.30 363.39 L633.69 363.41 L636.07 363.43 L638.45 363.44 L640.83 363.46 L643.22 363.48 L645.60 363.49 L647.98 363.51 L650.36 363.53 L652.75 363.54 L655.13 363.56 L657.51 363.57 L659.89 363.59 L662.28 363.60 L664.66 363.62 L667.04 363.63 L669.42 363.64" fill="none" stroke="#000000" stroke-width="2.55" stroke-linecap="square" stroke-dasharray="5.85 6.60"/>
<path d="M73.80 383.30v-3.20M73.80 1.30v3.20M97.62 383.30v-1.90M97.62 1.30v1.90M121.45 383.30v-1.90M121.45 1.30v1.90M145.27 383.30v-1.90M145.27 1.30v1.90M169.10 383.30v-1.90M169.10 1.30v1.90M192.93 383.30v-3.20M192.93 1.30v3.20M216.75 383.30v-1.90M216.75 1.30v1.90M240.57 383.30v-1.90M240.57 1.30v1.90M264.40 383.30v-1.90M264.40 1.30v1.90M288.23 383.30v-1.90M288.23 1.30v1.90M312.05 383.30v-3.20M312.05 1.30v3.20M335.88 383.30v-1.90M335.88 1.30v1.90M359.70 383.30v-1.90M359.70 1.30v1.90M383.53 383.30v-1.90M383.53 1.30v1.90M407.35 383.30v-1.90M407.35 1.30v1.90M431.18 383.30v-3.20M431.18 1.30v3.20M455.00 383.30v-1.90M455.00 1.30v1.90M478.82 383.30v-1.90M478.82 1.30v1.90M502.65 383.30v-1.90M502.65 1.30v1.90M526.47 383.30v-1.90M526.47 1.30v1.90M550.30 383.30v-3.20M550.30 1.30v3.20M574.12 383.30v-1.90M574.12 1.30v1.90M597.95 383.30v-1.90M597.95 1.30v1.90M621.77 383.30v-1.90M621.77 1.30v1.90M645.60 383.30v-1.90M645.60 1.30v1.90M669.42 383.30v-3.20M669.42 1.30v3.20M61.50 381.65h1.90M681.90 381.65h-1.90M61.50 364.45h3.20M681.90 364.45h-3.20M61.50 347.25h1.90M681.90 347.25h-1.90M61.50 330.04h1.90M681.90 330.04h-1.90M61.50 312.83h1.90M681.90 312.83h-1.90M61.50 295.63h3.20M681.90 295.63h-3.20M61.50 278.42h1.90M681.90 278.42h-1.90M61.50 261.22h1.90M681.90 261.22h-1.90M61.50 244.01h1.90M681.90 244.01h-1.90M61.50 226.81h3.20M681.90 226.81h-3.20M61.50 209.60h1.90M681.90 209.60h-1.90M61.50 192.40h1.90M681.90 192.40h-1.90M61.50 175.19h1.90M681.90 175.19h-1.90M61.50 157.99h3.20M681.90 157.99h-3.20M61.50 140.78h1.90M681.90 140.78h-1.90M61.50 123.58h1.90M681.90 123.58h-1.90M61.50 106.37h1.90M681.90 106.37h-1.90M61.50 89.17h3.20M681.90 89.17h-3.20M61.50 71.96h1.90M681.90 71.96h-1.90M61.50 54.76h1.90M681.90 54.76h-1.90M61.50 37.56h1.90M681.90 37.56h-1.90M61.50 20.35h3.20M681.90 20.35h-3.20M61.50 3.14h1.90M681.90 3.14h-1.90" stroke="#9a9a9a" stroke-width="0.6" fill="none"/>
<rect x="61.50" y="1.30" width="620.40" height="382.00" fill="none" stroke="#8f8f8f" stroke-width="0.9"/>
<text transform="translate(74.00 406.2) scale(0.985 1.06)" font-size="22" stroke="#000" stroke-width="0.2" text-anchor="middle">0.0</text>
<text transform="translate(193.12 406.2) scale(0.985 1.06)" font-size="22" stroke="#000" stroke-width="0.2" text-anchor="middle">0.5</text>
<text transform="translate(312.25 406.2) scale(0.985 1.06)" font-size="22" stroke="#000" stroke-width="0.2" text-anchor="middle">1.0</text>
<text transform="translate(431.38 406.2) scale(0.985 1.06)" font-size="22" stroke="#000" stroke-width="0.2" text-anchor="middle">1.5</text>
<text transform="translate(550.50 406.2) scale(0.985 1.06)" font-size="22" stroke="#000" stroke-width="0.2" text-anchor="middle">2.0</text>
<text transform="translate(669.62 406.2) scale(0.985 1.06)" font-size="22" stroke="#000" stroke-width="0.2" text-anchor="middle">2.5</text>
<text transform="translate(58.5 371.55) scale(0.985 1.06)" font-size="22" stroke="#000" stroke-width="0.2" text-anchor="end">0.0</text>
<text transform="translate(58.5 302.73) scale(0.985 1.06)" font-size="22" stroke="#000" stroke-width="0.2" text-anchor="end">0.2</text>
<text transform="translate(58.5 233.91) scale(0.985 1.06)" font-size="22" stroke="#000" stroke-width="0.2" text-anchor="end">0.4</text>
<text transform="translate(58.5 165.09) scale(0.985 1.06)" font-size="22" stroke="#000" stroke-width="0.2" text-anchor="end">0.6</text>
<text transform="translate(58.5 96.27) scale(0.985 1.06)" font-size="22" stroke="#000" stroke-width="0.2" text-anchor="end">0.8</text>
<text transform="translate(58.5 27.45) scale(0.985 1.06)" font-size="22" stroke="#000" stroke-width="0.2" text-anchor="end">1.0</text>
<text x="372.5" y="436.3" font-size="23" font-style="italic" text-anchor="middle">ζ</text>
<text transform="translate(18 191.5) rotate(-90)" font-size="22" text-anchor="middle"><tspan font-style="italic">θ</tspan>(<tspan font-style="italic">ζ</tspan>,<tspan font-style="italic" dx="4.5">τ</tspan>)</text>
<text class="s" x="292.5" y="53.5" font-size="16.5"><tspan font-weight="bold">Solid Line:</tspan> Isothermal Wall (<tspan font-style="italic">τ=1.5</tspan>)</text>
<text class="s" x="292.5" y="99.5" font-size="16.4"><tspan font-weight="bold">Dashed:</tspan> Ramped Wall (<tspan font-style="italic">τ<tspan dx="1.2">=0.5</tspan></tspan>)</text>
<path d="M142.2 346L256.5 208.2" stroke="#000" stroke-width="1.0" fill="none"/>
<path d="M272.8 189L249.9 205.5L256.5 208.2L261.1 215Z" fill="#000"/>
<rect x="571.4" y="7.5" width="107.1" height="235.9" fill="#fff" stroke="#4a4a4a" stroke-width="1.1"/>
<text transform="translate(593.9 30.80) scale(0.985 1.0)" font-size="22.2" fill="#ff0000" stroke="#ff0000" stroke-width="0.25"><tspan font-style="italic">N</tspan><tspan font-style="italic" font-size="16" dy="3.8">r</tspan><tspan dy="-1.9" dx="0.5">=</tspan><tspan dy="-1.9">0.0</tspan></text>
<text transform="translate(593.9 59.63) scale(0.985 1.0)" font-size="22.2" fill="#ff00ff" stroke="#ff00ff" stroke-width="0.25"><tspan font-style="italic">N</tspan><tspan font-style="italic" font-size="16" dy="3.8">r</tspan><tspan dy="-1.9" dx="0.5">=</tspan><tspan dy="-1.9">0.3</tspan></text>
<text transform="translate(593.9 88.46) scale(0.985 1.0)" font-size="22.2" fill="#0000ff" stroke="#0000ff" stroke-width="0.25"><tspan font-style="italic">N</tspan><tspan font-style="italic" font-size="16" dy="3.8">r</tspan><tspan dy="-1.9" dx="0.5">=</tspan><tspan dy="-1.9">0.6</tspan></text>
<text transform="translate(593.9 117.29) scale(0.985 1.0)" font-size="22.2" fill="#000000" stroke="#000000" stroke-width="0.25"><tspan font-style="italic">N</tspan><tspan font-style="italic" font-size="16" dy="3.8">r</tspan><tspan dy="-1.9" dx="0.5">=</tspan><tspan dy="-1.9">0.9</tspan></text>
<text transform="translate(593.9 146.12) scale(0.985 1.0)" font-size="22.2" fill="#ff0000" stroke="#ff0000" stroke-width="0.25"><tspan font-style="italic">N</tspan><tspan font-style="italic" font-size="16" dy="3.8">r</tspan><tspan dy="-1.9" dx="0.5">=</tspan><tspan dy="-1.9">0.0</tspan></text>
<text transform="translate(593.9 174.95) scale(0.985 1.0)" font-size="22.2" fill="#ff00ff" stroke="#ff00ff" stroke-width="0.25"><tspan font-style="italic">N</tspan><tspan font-style="italic" font-size="16" dy="3.8">r</tspan><tspan dy="-1.9" dx="0.5">=</tspan><tspan dy="-1.9">0.3</tspan></text>
<text transform="translate(593.9 203.78) scale(0.985 1.0)" font-size="22.2" fill="#0000ff" stroke="#0000ff" stroke-width="0.25"><tspan font-style="italic">N</tspan><tspan font-style="italic" font-size="16" dy="3.8">r</tspan><tspan dy="-1.9" dx="0.5">=</tspan><tspan dy="-1.9">0.6</tspan></text>
<text transform="translate(593.9 232.61) scale(0.985 1.0)" font-size="22.2" fill="#000000" stroke="#000000" stroke-width="0.25"><tspan font-style="italic">N</tspan><tspan font-style="italic" font-size="16" dy="3.8">r</tspan><tspan dy="-1.9" dx="0.5">=</tspan><tspan dy="-1.9">0.9</tspan></text>
</svg></body></html>
